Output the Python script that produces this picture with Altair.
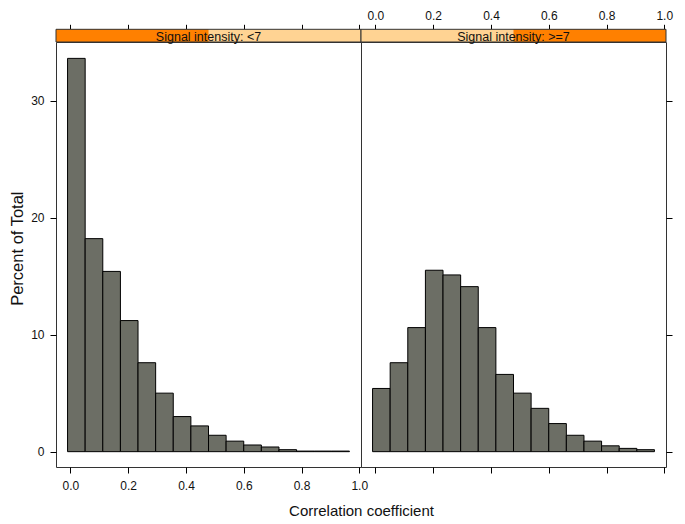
import altair as alt
import pandas as pd

# ---- data ----
bin_start = [-0.010, 0.051, 0.112, 0.173, 0.234, 0.295, 0.356, 0.417,
             0.478, 0.539, 0.600, 0.661, 0.722, 0.783, 0.844, 0.905]
bin_end = [0.051, 0.112, 0.173, 0.234, 0.295, 0.356, 0.417, 0.478,
           0.539, 0.600, 0.661, 0.722, 0.783, 0.844, 0.905, 0.966]
pct_low = [33.6, 18.2, 15.4, 11.2, 7.6, 5.0, 3.0, 2.2,
           1.4, 0.9, 0.57, 0.4, 0.17, 0.05, 0.05, 0.05]
pct_high = [5.4, 7.6, 10.6, 15.5, 15.1, 14.1, 10.6, 6.6,
            5.0, 3.7, 2.4, 1.4, 0.9, 0.5, 0.28, 0.17]
panel_labels = ["Signal intensity: <7", "Signal intensity: >=7"]
x_ticks = [0.0, 0.2, 0.4, 0.6, 0.8, 1.0]
y_ticks = [0, 10, 20, 30]
x_domain = [-0.05, 1.006]
y_domain = [-1.31, 35.0]
x_title = "Correlation coefficient"
y_title = "Percent of Total"

# ---- style ----
W, H = 305, 425
STRIP = 12.7
BAR = "#6c6e65"
DARK = "#ff8000"
LIGHT = "#ffd393"
FRAME = "#333333"
SANS = "Liberation Sans, Arial, sans-serif"


def panel(vals, label, first):
    df = pd.DataFrame({"start": bin_start, "end": bin_end, "pct": vals})
    xs = alt.Scale(domain=x_domain, nice=False, zero=False)
    ys = alt.Scale(domain=y_domain, nice=False, zero=False)

    if first:
        bottom_axis = alt.Axis(orient="bottom", values=x_ticks, format=".1f",
                               tickSize=6, labelPadding=7.5, labelFlush=False,
                               title=x_title, titleX=W, titleAlign="center",
                               titlePadding=12, titleFont=SANS,
                               titleFontSize=15, titleFontWeight="normal")
        y_axis = alt.Axis(orient="left", values=y_ticks, format="d",
                          tickSize=6, labelPadding=6, title=y_title,
                          titleFont=SANS, titleFontSize=16.5,
                          titleFontWeight="normal", titlePadding=5.5,
                          titleY=(H - STRIP) / 2, titleAlign="center")
        top_axis = alt.Axis(orient="top", values=x_ticks, labels=False,
                            tickSize=5, offset=STRIP, title=None)
    else:
        bottom_axis = alt.Axis(orient="bottom", values=x_ticks, labels=False,
                               tickSize=6, title=None)
        y_axis = alt.Axis(orient="right", values=y_ticks, labels=False,
                          tickSize=6, title=None)
        top_axis = alt.Axis(orient="top", values=x_ticks, format=".1f",
                            tickSize=5, labelPadding=2, offset=STRIP,
                            labelFlush=False, title=None)

    bars = alt.Chart(df).mark_rect(fill=BAR, stroke="black", strokeWidth=1).encode(
        x=alt.X("start:Q", scale=xs, axis=bottom_axis),
        x2="end:Q",
        y=alt.Y("pct:Q", scale=ys, axis=y_axis),
        y2=alt.datum(0),
    )
    top = alt.Chart(df).mark_point(opacity=0).encode(
        x=alt.X("start:Q", scale=xs, axis=top_axis),
    )

    sdf = pd.DataFrame({"label": [label]})
    light = alt.Chart(sdf).mark_rect(fill=LIGHT).encode(
        x=alt.value(0), x2=alt.value(W), y=alt.value(-STRIP), y2=alt.value(0))
    dark = alt.Chart(sdf).mark_rect(fill=DARK).encode(
        x=alt.value(0 if first else W / 2), x2=alt.value(W / 2 if first else W),
        y=alt.value(-STRIP), y2=alt.value(0))
    border = alt.Chart(sdf).mark_rect(fillOpacity=0, stroke=FRAME, strokeWidth=1).encode(
        x=alt.value(0), x2=alt.value(W), y=alt.value(-STRIP), y2=alt.value(0))
    text = alt.Chart(sdf).mark_text(font=SANS, fontSize=12.5, color="#111111",
                                    baseline="middle", align="center").encode(
        text="label:N", x=alt.value(W / 2), y=alt.value(-STRIP / 2 + 1))

    return alt.layer(bars, top, light, dark, border, text).resolve_axis(
        x="independent").properties(width=W, height=H)


left = panel(pct_low, panel_labels[0], True)
right = panel(pct_high, panel_labels[1], False)

chart = alt.hconcat(left, right, spacing=0, bounds="flush").properties(
    padding=0
).configure_view(stroke=FRAME, strokeWidth=1).configure_axis(
    domain=False, grid=False, tickColor="black", tickWidth=1,
    labelFont=SANS, labelFontSize=12, labelColor="#111111", titleColor="#111111"
)

chart.save("out.html", embed_options={"renderer": "svg", "actions": False})
